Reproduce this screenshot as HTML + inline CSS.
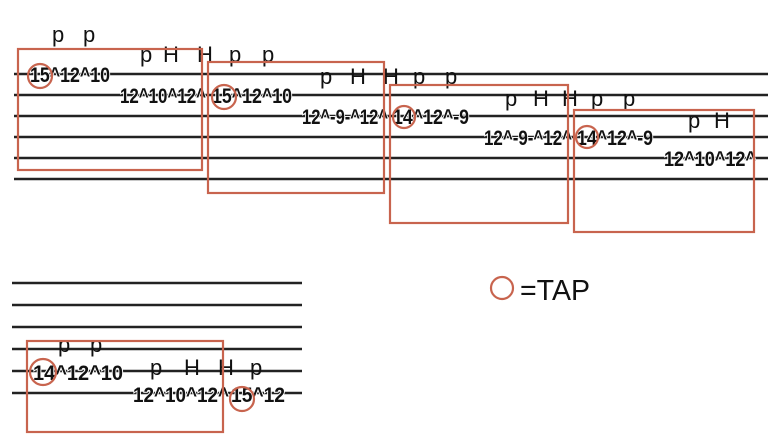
<!DOCTYPE html>
<html><head><meta charset="utf-8"><style>
html,body{margin:0;padding:0;background:#fff;}
svg{display:block}
.n{font-family:"Liberation Sans",sans-serif;font-weight:bold;font-size:21px;fill:#111;stroke:#fff;stroke-width:2px;paint-order:stroke;}
.l{font-family:"Liberation Sans",sans-serif;font-size:22px;fill:#111;}
.s line{stroke:#222;stroke-width:2.4}
.b{fill:none;stroke:#c8644e;stroke-width:2.2}
</style></head><body>
<svg width="780" height="439" viewBox="0 0 780 439">
<g class="s">
<line x1="14" y1="74" x2="768" y2="74"/><line x1="14" y1="95" x2="768" y2="95"/>
<line x1="14" y1="116" x2="768" y2="116"/><line x1="14" y1="137" x2="768" y2="137"/>
<line x1="14" y1="158" x2="768" y2="158"/><line x1="14" y1="179" x2="768" y2="179"/>
<line x1="12" y1="283" x2="302" y2="283"/><line x1="12" y1="305" x2="302" y2="305"/>
<line x1="12" y1="327" x2="302" y2="327"/><line x1="12" y1="349" x2="302" y2="349"/>
<line x1="12" y1="371" x2="302" y2="371"/><line x1="12" y1="393" x2="302" y2="393"/>
</g>
<g class="n">
<text x="30" y="82" textLength="80" lengthAdjust="spacingAndGlyphs">15^12^10</text>
<text x="120" y="103" textLength="86" lengthAdjust="spacingAndGlyphs">12^10^12^</text>
<text x="212" y="103" textLength="80" lengthAdjust="spacingAndGlyphs">15^12^10</text>
<text x="302" y="124" textLength="86" lengthAdjust="spacingAndGlyphs">12^-9-^12^</text>
<text x="393" y="124" textLength="76" lengthAdjust="spacingAndGlyphs">14^12^-9</text>
<text x="484" y="145" textLength="88" lengthAdjust="spacingAndGlyphs">12^-9-^12^</text>
<text x="577" y="145" textLength="76" lengthAdjust="spacingAndGlyphs">14^12^-9</text>
<text x="664" y="166" textLength="92" lengthAdjust="spacingAndGlyphs">12^10^12^</text>
<text x="33" y="380" textLength="90" lengthAdjust="spacingAndGlyphs">14^12^10</text>
<text x="133" y="402" textLength="96" lengthAdjust="spacingAndGlyphs">12^10^12^</text>
<text x="231" y="402" textLength="54" lengthAdjust="spacingAndGlyphs">15^12</text>
</g>
<g class="l">
<text x="52" y="42">p</text><text x="83" y="42">p</text>
<text x="140" y="62">p</text><text x="163" y="62">H</text><text x="197" y="62">H</text><text x="229" y="62">p</text><text x="262" y="62">p</text>
<text x="320" y="84">p</text><text x="350" y="84">H</text><text x="383" y="84">H</text><text x="413" y="84">p</text><text x="445" y="84">p</text>
<text x="505" y="106">p</text><text x="533" y="106">H</text><text x="562" y="106">H</text><text x="591" y="106">p</text><text x="623" y="106">p</text>
<text x="688" y="128">p</text><text x="714" y="128">H</text>
<text x="58" y="352">p</text><text x="90" y="352">p</text>
<text x="150" y="375">p</text><text x="184" y="375">H</text><text x="218" y="375">H</text><text x="250" y="375">p</text>
</g>
<rect class="b" x="18" y="49" width="184" height="121"/>
<rect class="b" x="208" y="62" width="176" height="131"/>
<rect class="b" x="390" y="85" width="178" height="138"/>
<rect class="b" x="574" y="110" width="180" height="122"/>
<rect class="b" x="27" y="341" width="196" height="91"/>
<circle class="b" cx="40" cy="76" r="12"/>
<circle class="b" cx="224" cy="97" r="12"/>
<circle class="b" cx="404" cy="117" r="11"/>
<circle class="b" cx="587" cy="137" r="11"/>
<circle class="b" cx="43" cy="372" r="13"/>
<circle class="b" cx="242" cy="399" r="12"/>
<circle class="b" cx="502" cy="288" r="11"/>
<text x="520" y="300" style="font-family:'Liberation Sans',sans-serif;font-size:29px;fill:#111" textLength="70" lengthAdjust="spacingAndGlyphs">=TAP</text>
</svg>
</body></html>
